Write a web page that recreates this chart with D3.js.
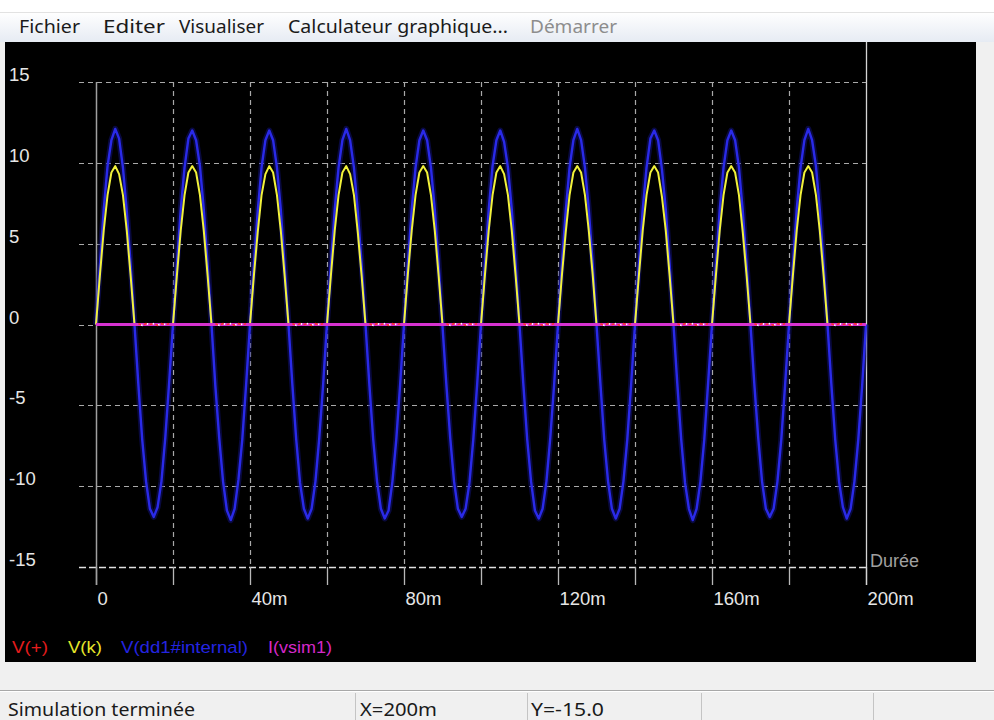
<!DOCTYPE html>
<html><head><meta charset="utf-8">
<script src="https://cdn.jsdelivr.net/npm/d3@7/dist/d3.min.js"></script>
<style>html,body{margin:0;padding:0;background:#f0f0f0;overflow:hidden}</style>
</head><body>
<svg id="c" width="994" height="720"></svg>
<script>
// ---------- data ----------
const menuItems = ["Fichier", "Editer", "Visualiser", "Calculateur graphique...", "Démarrer"];
const legendLabels = ["V(+)", "V(k)", "V(dd1#internal)", "I(vsim1)"];
const statusTexts = ["Simulation terminée", "X=200m", "Y=-15.0"];
const yTicks = [-15, -10, -5, 0, 5, 10, 15];
const yTickLabels = ["-15", "-10", "-5", "0", "5", "10", "15"];
const xGrid = [0, 20, 40, 60, 80, 100, 120, 140, 160, 180, 200];      // ms
const xLabelTicks = [0, 40, 80, 120, 160, 200];
const xTickLabels = ["0", "40m", "80m", "120m", "160m", "200m"];
const xAxisTitle = "Durée";
const sampleStepMs = 1;        // blue / yellow / red samples every 1 ms
const currentStepMs = 10;      // I(vsim1) samples every 10 ms

// V(dd1#internal) – blue sine, volts
const vdd1 = [
  0, 3.6, 7.1, 9.8, 11.4, 12.1, 11.5, 9.7, 7.0, 3.7, 0, -3.7, -7.1, -9.7, -11.4, -11.9, -11.3, -9.7, -7.0, -3.6,
  0, 3.7, 7.1, 9.7, 11.5, 12.0, 11.4, 9.8, 7.1, 3.7, 0, -3.8, -7.0, -9.7, -11.5, -12.1, -11.4, -9.6, -7.1, -3.7,
  0, 3.7, 7.0, 9.7, 11.4, 12.0, 11.4, 9.7, 7.1, 3.6, 0, -3.7, -7.1, -9.8, -11.4, -12.0, -11.4, -9.7, -7.0, -3.7,
  0.1, 3.7, 7.1, 9.7, 11.4, 12.1, 11.4, 9.7, 7.0, 3.7, 0, -3.7, -7.1, -9.7, -11.4, -12.0, -11.5, -9.7, -7.1, -3.7,
  0, 3.8, 7.1, 9.7, 11.4, 12.0, 11.4, 9.7, 7.1, 3.7, -0.1, -3.7, -7.0, -9.7, -11.4, -11.9, -11.4, -9.8, -7.1, -3.7,
  0, 3.7, 7.1, 9.8, 11.4, 12.0, 11.3, 9.7, 7.1, 3.7, 0, -3.7, -7.1, -9.7, -11.5, -12.0, -11.4, -9.7, -7.0, -3.7,
  0, 3.7, 7.0, 9.7, 11.4, 12.1, 11.4, 9.7, 7.1, 3.8, 0, -3.6, -7.1, -9.7, -11.4, -12.0, -11.4, -9.7, -7.1, -3.7,
  0, 3.7, 7.1, 9.7, 11.5, 12.0, 11.4, 9.6, 7.1, 3.7, 0, -3.7, -7.1, -9.8, -11.4, -12.1, -11.4, -9.7, -7.1, -3.6,
  0, 3.7, 7.1, 9.7, 11.4, 12.0, 11.4, 9.7, 7.0, 3.7, 0, -3.7, -7.0, -9.7, -11.4, -11.9, -11.4, -9.7, -7.1, -3.7,
  0, 3.6, 7.1, 9.7, 11.4, 12.1, 11.4, 9.8, 7.1, 3.7, 0, -3.7, -7.1, -9.7, -11.3, -12.0, -11.4, -9.7, -7.1, -3.8,
  0
];

// V(k) – yellow half-wave, volts
const vk = [
  0, 3.0, 5.8, 8.0, 9.4, 9.8, 9.3, 8.0, 5.8, 3.0, 0, 0, 0, 0, 0, 0, 0, 0, 0, 0,
  0, 3.0, 5.8, 8.0, 9.4, 9.8, 9.4, 8.0, 5.8, 3.0, 0, 0, 0, 0, 0, 0, 0, 0, 0, 0,
  0, 3.0, 5.7, 8.0, 9.3, 9.8, 9.4, 8.0, 5.8, 3.0, 0, 0, 0, 0, 0, 0, 0, 0, 0, 0,
  0, 3.0, 5.8, 8.0, 9.4, 9.8, 9.3, 8.0, 5.7, 3.0, 0, 0, 0, 0, 0, 0, 0, 0, 0, 0,
  0, 3.1, 5.8, 8.0, 9.4, 9.8, 9.4, 8.0, 5.8, 3.0, 0, 0, 0, 0, 0, 0, 0, 0, 0, 0,
  0, 3.0, 5.8, 8.0, 9.4, 9.8, 9.3, 8.0, 5.8, 3.0, 0, 0, 0, 0, 0, 0, 0, 0, 0, 0,
  0, 3.0, 5.7, 8.0, 9.4, 9.8, 9.4, 8.0, 5.8, 3.1, 0, 0, 0, 0, 0, 0, 0, 0, 0, 0,
  0, 3.0, 5.8, 8.0, 9.4, 9.8, 9.4, 7.9, 5.8, 3.0, 0, 0, 0, 0, 0, 0, 0, 0, 0, 0,
  0, 3.0, 5.8, 8.0, 9.4, 9.8, 9.4, 8.0, 5.7, 3.0, 0, 0, 0, 0, 0, 0, 0, 0, 0, 0,
  0, 3.0, 5.8, 8.0, 9.4, 9.8, 9.4, 8.0, 5.8, 3.0, 0, 0, 0, 0, 0, 0, 0, 0, 0, 0,
  0
];

// V(+) – red, only visible as small residue during the off half-cycles
const vplus = [
  null,null,null,null,null,null,null,null,null,null,null, 0.05,-0.05,0.05,0,0.05,-0.05,0.05,0,0.05,
  null,null,null,null,null,null,null,null,null,null,null, 0.05,-0.05,0.05,0,0.05,-0.05,0.05,0,0.05,
  null,null,null,null,null,null,null,null,null,null,null, 0.05,-0.05,0.05,0,0.05,-0.05,0.05,0,0.05,
  null,null,null,null,null,null,null,null,null,null,null, 0.05,-0.05,0.05,0,0.05,-0.05,0.05,0,0.05,
  null,null,null,null,null,null,null,null,null,null,null, 0.05,-0.05,0.05,0,0.05,-0.05,0.05,0,0.05,
  null,null,null,null,null,null,null,null,null,null,null, 0.05,-0.05,0.05,0,0.05,-0.05,0.05,0,0.05,
  null,null,null,null,null,null,null,null,null,null,null, 0.05,-0.05,0.05,0,0.05,-0.05,0.05,0,0.05,
  null,null,null,null,null,null,null,null,null,null,null, 0.05,-0.05,0.05,0,0.05,-0.05,0.05,0,0.05,
  null,null,null,null,null,null,null,null,null,null,null, 0.05,-0.05,0.05,0,0.05,-0.05,0.05,0,0.05,
  null,null,null,null,null,null,null,null,null,null,null, 0.05,-0.05,0.05,0,0.05,-0.05,0.05,0,0.05,
  null
];

// I(vsim1) – magenta, flat
const ivsim1 = [0, 0, 0, 0, 0, 0, 0, 0, 0, 0, 0, 0, 0, 0, 0, 0, 0, 0, 0, 0, 0];

// ---------- drawing ----------
const svg = d3.select("#c");
const W = 994, H = 720;

// window chrome
const defs = svg.append("defs");
const g1 = defs.append("linearGradient").attr("id", "menuGrad").attr("x1", 0).attr("x2", 0).attr("y1", 0).attr("y2", 1);
g1.append("stop").attr("offset", "0%").attr("stop-color", "#ffffff");
g1.append("stop").attr("offset", "100%").attr("stop-color", "#e6ebf3");
svg.append("rect").attr("x", 0).attr("y", 0).attr("width", W).attr("height", H).attr("fill", "#f0f0f0");
svg.append("rect").attr("x", 0).attr("y", 0).attr("width", W).attr("height", 12).attr("fill", "#ffffff");
svg.append("rect").attr("x", 0).attr("y", 12).attr("width", W).attr("height", 30).attr("fill", "url(#menuGrad)");
svg.append("line").attr("x1", 0).attr("x2", W).attr("y1", 12.5).attr("y2", 12.5).attr("stroke", "#e2e2e2");

const menuX = [19, 103, 179, 288, 530];
const menuW = [61, 62, 85, 220, 87];
svg.selectAll("text.menu").data(menuItems).join("text")
  .attr("class", "menu")
  .attr("x", (d, i) => menuX[i]).attr("y", 33)
  .attr("textLength", (d, i) => menuW[i]).attr("lengthAdjust", "spacingAndGlyphs")
  .attr("font-family", "'Noto Sans', 'Open Sans', sans-serif").attr("font-size", 18)
  .attr("fill", (d, i) => i === 4 ? "#8d8d8d" : "#1a1a1a")
  .text(d => d);

// plot background
svg.append("rect").attr("x", 5).attr("y", 42).attr("width", 971).attr("height", 620).attr("fill", "#000000");

// status bar
svg.append("line").attr("x1", 0).attr("x2", W).attr("y1", 690.5).attr("y2", 690.5).attr("stroke", "#a8a8a8");
svg.append("line").attr("x1", 0).attr("x2", W).attr("y1", 691.5).attr("y2", 691.5).attr("stroke", "#ffffff");
[355, 527, 701, 873].forEach(sx => {
  svg.append("line").attr("x1", sx + 0.5).attr("x2", sx + 0.5).attr("y1", 693).attr("y2", 720).attr("stroke", "#c4c4c4");
});
const statusX = [8, 360, 531];
const statusW = [187, 77, 73];
svg.selectAll("text.status").data(statusTexts).join("text")
  .attr("class", "status")
  .attr("x", (d, i) => statusX[i]).attr("y", 716)
  .attr("textLength", (d, i) => statusW[i]).attr("lengthAdjust", "spacingAndGlyphs")
  .attr("font-family", "'Noto Sans', 'Open Sans', sans-serif").attr("font-size", 18)
  .attr("fill", "#1a1a1a")
  .text(d => d);

// scales
const x = d3.scaleLinear().domain([0, 200]).range([96, 866]);
const y = d3.scaleLinear().domain([-15, 15]).range([567, 82]);

const grid = svg.append("g");
// horizontal dashed grid lines
grid.selectAll("line.h").data(yTicks).join("line")
  .attr("x1", 79).attr("x2", x(200))
  .attr("y1", d => Math.round(y(d)) + 0.5).attr("y2", d => Math.round(y(d)) + 0.5)
  .attr("stroke", d => d === -15 ? "#e0e0e0" : "#a9a9a9")
  .attr("stroke-width", d => d === -15 ? 1.6 : 1.2)
  .attr("stroke-dasharray", d => d === -15 ? "7,3" : "5,4");
// vertical dashed grid lines
grid.selectAll("line.v").data(xGrid.filter(d => d > 0 && d < 200)).join("line")
  .attr("x1", d => Math.round(x(d)) + 0.5).attr("x2", d => Math.round(x(d)) + 0.5)
  .attr("y1", y(15)).attr("y2", y(-15))
  .attr("stroke", "#a9a9a9").attr("stroke-width", 1.2).attr("stroke-dasharray", "5,4");

// x axis ticks via d3 axis
const xAxis = d3.axisBottom(x).tickValues(xGrid).tickSize(18).tickFormat("");
const gx = svg.append("g").attr("transform", `translate(0,${y(-15)})`).call(xAxis);
gx.select(".domain").remove();
gx.selectAll(".tick line").attr("stroke", "#b8b8b8").attr("stroke-width", 1.3);
// x = 0 solid axis
svg.append("line").attr("x1", Math.round(x(0)) + 0.5).attr("x2", Math.round(x(0)) + 0.5)
  .attr("y1", y(15)).attr("y2", y(-15) + 18).attr("stroke", "#a0a0a0").attr("stroke-width", 1.5);
// x = 200 solid line up to the top
svg.append("line").attr("x1", Math.round(x(200)) + 0.5).attr("x2", Math.round(x(200)) + 0.5)
  .attr("y1", 42).attr("y2", y(-15) + 18).attr("stroke", "#d4d4d4").attr("stroke-width", 1.3);

// labels
const labelFont = "'Liberation Sans', Arial, sans-serif";
svg.selectAll("text.ylab").data(yTicks).join("text")
  .attr("class", "ylab")
  .attr("x", 9).attr("y", d => y(d) - 1)
  .attr("font-family", labelFont).attr("font-size", 18.5).attr("fill", "#e6e6e6")
  .text((d, i) => yTickLabels[i]);
svg.selectAll("text.xlab").data(xLabelTicks).join("text")
  .attr("class", "xlab")
  .attr("x", d => x(d) + 1.5).attr("y", 605)
  .attr("font-family", labelFont).attr("font-size", 18.5).attr("fill", "#e6e6e6")
  .text((d, i) => xTickLabels[i]);
svg.append("text").attr("x", x(200) + 4).attr("y", 567)
  .attr("font-family", labelFont).attr("font-size", 18).attr("fill", "#a0a0a0")
  .text(xAxisTitle);

// series
const toPts = (arr, step) => arr.map((v, i) => ({ t: i * step, v }));
const line = d3.line().defined(d => d.v !== null).x(d => x(d.t)).y(d => y(d.v));
const plot = svg.append("g");

const bluePts = toPts(vdd1, sampleStepMs);
plot.append("path").attr("d", line(bluePts)).attr("fill", "none")
  .attr("stroke", "#14148c").attr("stroke-width", 6).attr("stroke-opacity", 0.45).attr("stroke-linejoin", "round");
plot.append("path").attr("d", line(bluePts)).attr("fill", "none")
  .attr("stroke", "#2a2ae8").attr("stroke-width", 2.4).attr("stroke-linejoin", "round");

plot.append("path").attr("d", line(toPts(vk, sampleStepMs))).attr("fill", "none")
  .attr("stroke", "#f2f23a").attr("stroke-width", 2).attr("stroke-linejoin", "round");

plot.append("path").attr("d", line(toPts(ivsim1, currentStepMs))).attr("fill", "none")
  .attr("stroke", "#d632d0").attr("stroke-width", 3.2);

const redPts = toPts(vplus, sampleStepMs);
plot.append("path").attr("d", line(redPts)).attr("fill", "none")
  .attr("stroke", "#ffffff").attr("stroke-width", 1.6).attr("stroke-dasharray", "1.5,4.5").attr("stroke-dashoffset", 3);
plot.append("path").attr("d", line(redPts)).attr("fill", "none")
  .attr("stroke", "#ff3030").attr("stroke-width", 1.6).attr("stroke-dasharray", "3,3");

// legend
const legendX = [12, 68, 121, 268];
const legendW = [36, 34, 127, 64];
const legendColors = ["#e51c1c", "#e6e62a", "#2424e0", "#d428c8"];
svg.selectAll("text.leg").data(legendLabels).join("text")
  .attr("class", "leg")
  .attr("x", (d, i) => legendX[i]).attr("y", 653)
  .attr("textLength", (d, i) => legendW[i]).attr("lengthAdjust", "spacingAndGlyphs")
  .attr("font-family", labelFont).attr("font-size", 17).attr("fill", (d, i) => legendColors[i])
  .text(d => d);
</script>
</body></html>
